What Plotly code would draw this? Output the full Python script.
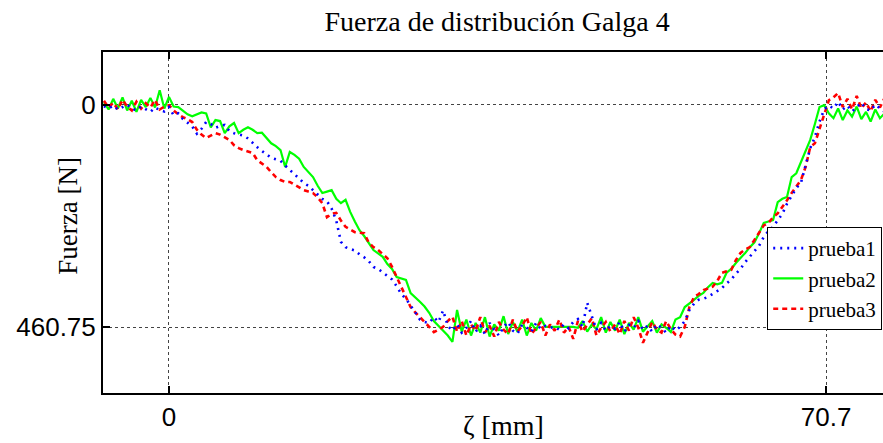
import plotly.graph_objects as go

# Position along the gauge, mm
zeta_mm = [
    -7.0, -6.5, -6.0, -5.5, -5.0, -4.5, -4.0, -3.5, -3.0, -2.5,
    -2.0, -1.5, -1.0, -0.5, 0.0, 0.5, 1.0, 1.5, 2.0, 2.5,
    3.0, 3.5, 4.0, 4.5, 5.0, 5.5, 6.0, 6.5, 7.0, 7.5,
    8.0, 8.5, 9.0, 9.5, 10.0, 10.5, 11.0, 11.5, 12.0, 12.5,
    13.0, 13.5, 14.0, 14.5, 15.0, 15.5, 16.0, 16.5, 17.0, 17.5,
    18.0, 18.5, 19.0, 19.5, 20.0, 20.5, 21.0, 21.5, 22.0, 22.5,
    23.0, 23.5, 24.0, 24.5, 25.0, 25.5, 26.0, 26.5, 27.0, 27.5,
    28.0, 28.5, 29.0, 29.5, 30.0, 30.5, 31.0, 31.5, 32.0, 32.5,
    33.0, 33.5, 34.0, 34.5, 35.0, 35.5, 36.0, 36.5, 37.0, 37.5,
    38.0, 38.5, 39.0, 39.5, 40.0, 40.5, 41.0, 41.5, 42.0, 42.5,
    43.0, 43.5, 44.0, 44.5, 45.0, 45.5, 46.0, 46.5, 47.0, 47.5,
    48.0, 48.5, 49.0, 49.5, 50.0, 50.5, 51.0, 51.5, 52.0, 52.5,
    53.0, 53.5, 54.0, 54.5, 55.0, 55.5, 56.0, 56.5, 57.0, 57.5,
    58.0, 58.5, 59.0, 59.5, 60.0, 60.5, 61.0, 61.5, 62.0, 62.5,
    63.0, 63.5, 64.0, 64.5, 65.0, 65.5, 66.0, 66.5, 67.0, 67.5,
    68.0, 68.5, 69.0, 69.5, 70.0, 70.5, 71.0, 71.5, 72.0, 72.5,
    73.0, 73.5, 74.0, 74.5, 75.0, 75.5, 76.0, 76.5, 77.0, 77.5,
]

# Measured force, N
prueba1 = [
    3, 8, 2, 10, 5, 0, 8, 12, 4, 9,
    15, 6, 11, 14, 5, 22, 18, 30, 38, 45,
    60, 50, 36, 40, 48, 44, 42, 55, 59, 62,
    64, 70, 80, 88, 96, 104, 110, 113, 116, 126,
    135, 145, 154, 162, 168, 176, 186, 195, 200, 215,
    240, 284, 295, 299, 302, 310, 316, 324, 336, 340,
    347, 354, 362, 376, 392, 402, 415, 430, 445, 450,
    452, 440, 450, 426, 458, 468, 455, 472, 462, 448,
    470, 458, 475, 452, 466, 478, 460, 450, 468, 474,
    456, 462, 470, 452, 464, 458, 462, 460, 466, 455,
    463, 450, 444, 460, 410, 436, 466, 452, 468, 458,
    464, 450, 470, 456, 462, 448, 466, 458, 470, 455,
    462, 472, 458, 468, 460, 448, 425, 412, 404, 402,
    398, 392, 386, 380, 370, 362, 350, 340, 326, 315,
    305, 292, 274, 262, 253, 240, 226, 205, 188, 173,
    162, 125, 90, 67, 35, 10, 2, 8, -6, 10,
    2, 14, 4, -4, 9, 12, 0, 7, 15, 5,
]

prueba2 = [
    -5, 10, -12, 8, -15, 12, -8, 15, -10, 5,
    -14, 6, -30, 8, -16, 4, 5, 12, 20, 24,
    20, 16, 18, 47, 32, 34, 59, 45, 38, 59,
    52, 47, 52, 59, 58, 70, 80, 86, 94, 129,
    98, 104, 112, 129, 140, 150, 168, 183, 180, 177,
    195, 204, 197, 222, 242, 260, 272, 286, 301, 308,
    315, 330, 340, 357, 360, 363, 390, 398, 408, 418,
    431, 448, 458, 466, 478, 491, 425, 470, 445, 478,
    452, 472, 440, 480, 455, 468, 438, 475, 450, 470,
    445, 478, 452, 468, 442, 460, 460, 460, 460, 460,
    460, 460, 462, 448, 470, 455, 465, 440, 472, 450,
    468, 445, 475, 452, 466, 440, 470, 458, 448, 472,
    455, 462, 471, 445, 440, 419, 412, 404, 396, 390,
    378, 369, 372, 369, 348, 340, 328, 318, 307, 295,
    285, 266, 245, 242, 239, 202, 195, 191, 150, 142,
    118, 94, 73, 40, 5, 1, 18, 28, 8, 32,
    12, 25, 4, 30, 15, 35, 10, 28, 18, 30,
]

prueba3 = [
    -8, 6, -4, 10, -10, 4, 12, -6, 8, -3,
    6, -10, 10, 4, 1, 12, 20, 26, 30, 36,
    52, 62, 69, 64, 59, 62, 68, 73, 84, 90,
    94, 97, 100, 115, 122, 129, 140, 150, 156, 160,
    160, 166, 172, 177, 180, 183, 192, 204, 233, 226,
    224, 240, 253, 258, 264, 265, 266, 286, 295, 301,
    310, 318, 336, 356, 377, 398, 419, 430, 439, 450,
    460, 471, 466, 460, 448, 439, 470, 448, 478, 455,
    468, 440, 472, 458, 480, 450, 466, 475, 445, 470,
    458, 440, 475, 462, 450, 478, 455, 468, 445, 472,
    460, 485, 448, 470, 455, 442, 478, 462, 450, 470,
    455, 475, 448, 468, 440, 462, 493, 470, 450, 466,
    472, 448, 465, 476, 480, 460, 419, 398, 392, 384,
    380, 377, 365, 348, 345, 342, 322, 307, 300, 295,
    280, 266, 250, 245, 233, 225, 212, 198, 183, 170,
    156, 129, 88, 80, 50, 16, -9, -15, -24, 5,
    -12, 10, -18, 8, -5, 14, -10, 6, -14, 4,
]

x_ticks = [0, 70.7]
x_tick_text = ["0", "70.7"]
y_ticks = [0, 460.75]
y_tick_text = ["0", "460.75"]

SERIF = "Liberation Serif, Times New Roman, serif"
SANS = "Liberation Sans, Arial, sans-serif"

fig = go.Figure()

# green drawn first so the dashed and dotted series sit on top of it
fig.add_trace(go.Scatter(
    x=zeta_mm, y=prueba2, name="prueba2", mode="lines", legendrank=2,
    line=dict(color="#00FF00", width=2.2),
))
fig.add_trace(go.Scatter(
    x=zeta_mm, y=prueba3, name="prueba3", mode="lines", legendrank=3,
    line=dict(color="#FF0000", width=2.6, dash="5px,4px"),
))
fig.add_trace(go.Scatter(
    x=zeta_mm, y=prueba1, name="prueba1", mode="lines", legendrank=1,
    line=dict(color="#0000FF", width=2.6, dash="2px,5px"),
))

fig.update_layout(
    width=883,
    height=443,
    margin=dict(l=103, r=0, t=52, b=50),
    paper_bgcolor="white",
    plot_bgcolor="white",
    title=dict(
        text="Fuerza de distribución Galga 4",
        font=dict(family=SERIF, size=28, color="black"),
        x=0.563, xref="container", xanchor="center",
        y=0.952, yref="container", yanchor="middle",
    ),
    legend=dict(
        x=0.999, xanchor="right", y=0.487, yanchor="top",
        bgcolor="white", bordercolor="black", borderwidth=1,
        font=dict(family=SERIF, size=21, color="black"),
        traceorder="normal", tracegroupgap=0,
    ),
    showlegend=True,
)

fig.update_xaxes(
    range=[-7.1, 76.83],
    tickvals=x_ticks, ticktext=x_tick_text,
    tickfont=dict(family=SANS, size=26, color="black"),
    ticks="inside", ticklen=7, tickwidth=2, tickcolor="black",
    showline=True, linecolor="black", linewidth=2, mirror="ticks",
    showgrid=True, gridcolor="#444444", gridwidth=1, griddash="dot",
    zeroline=False,
)
fig.update_yaxes(
    range=[597, -109],
    tickvals=y_ticks, ticktext=y_tick_text,
    tickfont=dict(family=SANS, size=26, color="black"),
    ticks="inside", ticklen=7, tickwidth=2, tickcolor="black",
    showline=True, linecolor="black", linewidth=2, mirror=False,
    showgrid=True, gridcolor="#444444", gridwidth=1, griddash="dot",
    zeroline=False,
)

# axis titles
fig.add_annotation(
    text="ζ [mm]", xref="paper", yref="paper", x=0.514, y=-0.094,
    xanchor="center", yanchor="middle", showarrow=False,
    font=dict(family=SERIF, size=28, color="black"),
)
fig.add_annotation(
    text="Fuerza [N]", xref="paper", yref="paper", x=-0.0449, y=0.52,
    xanchor="center", yanchor="middle", showarrow=False, textangle=-90,
    font=dict(family=SERIF, size=27, color="black"),
)

fig.write_html("out.html")
